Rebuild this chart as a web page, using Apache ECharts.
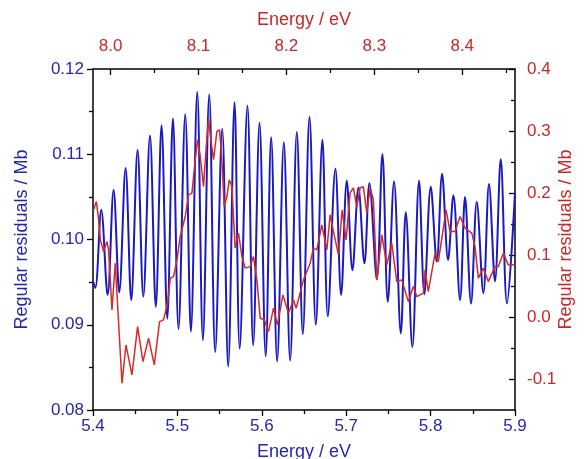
<!DOCTYPE html>
<html>
<head>
<meta charset="utf-8">
<script src="https://cdn.jsdelivr.net/npm/echarts@6/dist/echarts.min.js"></script>
<style>
html,body{margin:0;padding:0;background:#fff;}
#chart{width:585px;height:459px;}
</style>
</head>
<body>
<div id="chart"></div>
<script>
// Blue series: bottom axis energy (eV) and left axis residuals (Mb)
const blueEnergy = [5.4000,5.4027,5.4098,5.4173,5.4244,5.4311,5.4386,5.4453,5.4528,5.4596,5.4675,5.4744,5.4812,5.4880,5.4947,5.5013,5.5093,5.5160,5.5235,5.5302,5.5377,5.5448,5.5531,5.5602,5.5677,5.5738,5.5830,5.5898,5.5973,5.6046,5.6111,5.6182,5.6261,5.6336,5.6415,5.6486,5.6565,5.6640,5.6718,5.6782,5.6872,5.6940,5.7007,5.7074,5.7145,5.7216,5.7275,5.7363,5.7429,5.7493,5.7567,5.7647,5.7706,5.7784,5.7863,5.7926,5.8002,5.8073,5.8136,5.8207,5.8270,5.8349,5.8408,5.8479,5.8547,5.8625,5.8692,5.8763,5.8831,5.8905,5.9000];
const blueResidual = [0.0951,0.0943,0.1035,0.0935,0.1058,0.0938,0.1084,0.0929,0.1105,0.0933,0.1122,0.0921,0.1134,0.0907,0.1142,0.0895,0.1147,0.0892,0.1173,0.0882,0.1170,0.0868,0.1130,0.0851,0.1161,0.0872,0.1157,0.0876,0.1137,0.0863,0.1120,0.0857,0.1114,0.0858,0.1126,0.0889,0.1144,0.0900,0.1117,0.0910,0.1083,0.0935,0.1069,0.0964,0.1061,0.0972,0.1066,0.0953,0.1100,0.0927,0.1068,0.0890,0.1032,0.0874,0.1069,0.0936,0.1062,0.0974,0.1077,0.0976,0.1052,0.0929,0.1050,0.0925,0.1044,0.0937,0.1065,0.0951,0.1094,0.0925,0.1055];

// Red series: top axis energy (eV) and right axis residuals (Mb)
const redEnergy = [7.9807,7.9838,7.9864,7.9883,7.9920,7.9959,7.9977,8.0016,8.0053,8.0130,8.0175,8.0243,8.0307,8.0368,8.0432,8.0497,8.0557,8.0602,8.0648,8.0679,8.0716,8.0755,8.0792,8.0849,8.0887,8.0925,8.0963,8.0989,8.1020,8.1057,8.1088,8.1114,8.1141,8.1171,8.1209,8.1239,8.1266,8.1292,8.1323,8.1349,8.1380,8.1417,8.1455,8.1494,8.1531,8.1588,8.1625,8.1664,8.1702,8.1750,8.1796,8.1853,8.1898,8.1960,8.2023,8.2080,8.2111,8.2194,8.2270,8.2307,8.2346,8.2403,8.2460,8.2497,8.2543,8.2592,8.2634,8.2679,8.2724,8.2762,8.2801,8.2838,8.2876,8.2914,8.2952,8.2989,8.3028,8.3085,8.3142,8.3198,8.3255,8.3312,8.3387,8.3444,8.3483,8.3558,8.3577,8.3614,8.3691,8.3728,8.3816,8.3861,8.3918,8.3975,8.4032,8.4108,8.4145,8.4183,8.4240,8.4296,8.4373,8.4410,8.4467,8.4524,8.4600];
const redResidual = [0.1729,0.1863,0.1567,0.1244,0.1056,0.1217,0.1083,0.0114,0.0868,-0.1069,-0.0451,-0.0935,-0.0155,-0.0720,-0.0342,-0.0773,-0.0074,-0.0047,0.0223,0.0626,0.0652,0.0922,0.1298,0.1621,0.1971,0.1998,0.2536,0.2859,0.2589,0.2105,0.2751,0.3182,0.2859,0.2536,0.2993,0.3020,0.2536,0.1782,0.1943,0.2213,0.2105,0.1115,0.1353,0.0975,0.0788,0.0813,0.0975,0.0599,-0.0020,-0.0047,-0.0236,0.0142,-0.0128,0.0357,0.0061,0.0276,0.0142,0.0599,0.0868,0.1110,0.1083,0.1487,0.1083,0.1648,0.1325,0.1002,0.1729,0.1244,0.2003,0.2084,0.1777,0.2084,0.2100,0.1680,0.2084,0.1890,0.0599,0.1325,0.0841,0.1191,0.0571,0.0599,0.0248,0.0491,0.0329,0.0384,0.0760,0.0410,0.1030,0.0894,0.1729,0.1378,0.1378,0.1621,0.1433,0.1353,0.1136,0.0626,0.0788,0.0571,0.0813,0.0813,0.1030,0.0841,0.0841];

// Tick labels
const topMajorTicks = [8.0, 8.1, 8.2, 8.3, 8.4];
const topMinorTicks = [8.05, 8.15, 8.25, 8.35, 8.45];
const rightMajorTicks = [-0.1, 0.0, 0.1, 0.2, 0.3, 0.4];
const rightMinorTicks = [-0.05, 0.05, 0.15, 0.25, 0.35];

const BLUE_LINE = '#1a1ac0';
const BLUE_TEXT = '#2626b0';
const RED_LINE = '#d42a2a';
const RED_TEXT = '#c82828';
const FONT = 'Liberation Sans, Arial, sans-serif';

const chart = echarts.init(document.getElementById('chart'), null, {renderer: 'canvas'});

const axisLineStyle = {show: true, onZero: false, lineStyle: {color: '#000', width: 1.5}};
const tickStyle = {color: '#000', width: 1.3};

const option = {
  animation: false,
  backgroundColor: '#fff',
  grid: {left: 93, right: 70, top: 69, bottom: 49, containLabel: false, outerBoundsMode: 'none'},
  xAxis: [
    {
      type: 'value', position: 'bottom', min: 5.4, max: 5.9, interval: 0.1,
      axisLine: axisLineStyle,
      axisTick: {show: true, inside: false, length: 6, lineStyle: tickStyle},
      minorTick: {show: true, splitNumber: 2, length: 4, lineStyle: tickStyle},
      splitLine: {show: false},
      axisLabel: {color: BLUE_TEXT, fontSize: 17, fontFamily: FONT, margin: 8,
        formatter: v => v.toFixed(1)},
      name: 'Energy / eV', nameLocation: 'middle', nameGap: 33, nameMoveOverlap: false,
      nameTextStyle: {color: BLUE_TEXT, fontSize: 18, fontFamily: FONT}
    },
    {
      type: 'value', position: 'top', min: 7.98, max: 8.46,
      axisLine: axisLineStyle,
      axisTick: {show: true, inside: true, length: 6, customValues: topMajorTicks, lineStyle: tickStyle},
      splitLine: {show: false},
      axisLabel: {color: RED_TEXT, fontSize: 17, fontFamily: FONT, margin: 14,
        customValues: topMajorTicks, formatter: v => v.toFixed(1)},
      name: 'Energy / eV', nameLocation: 'middle', nameGap: 40, nameMoveOverlap: false,
      nameTextStyle: {color: RED_TEXT, fontSize: 18, fontFamily: FONT}
    },
    {
      type: 'value', position: 'top', min: 7.98, max: 8.46,
      axisLine: {show: false, onZero: false},
      axisTick: {show: true, inside: true, length: 4, customValues: topMinorTicks, lineStyle: tickStyle},
      splitLine: {show: false},
      axisLabel: {show: false, customValues: topMinorTicks}
    }
  ],
  yAxis: [
    {
      type: 'value', position: 'left', min: 0.08, max: 0.12, interval: 0.01,
      axisLine: axisLineStyle,
      axisTick: {show: true, inside: false, length: 6, lineStyle: tickStyle},
      minorTick: {show: true, splitNumber: 2, length: 4, lineStyle: tickStyle},
      splitLine: {show: false},
      axisLabel: {color: BLUE_TEXT, fontSize: 17, fontFamily: FONT, margin: 9,
        formatter: v => v.toFixed(2)},
      name: 'Regular residuals / Mb', nameLocation: 'middle', nameGap: 62, nameRotate: 90, nameMoveOverlap: false,
      nameTextStyle: {color: BLUE_TEXT, fontSize: 18, fontFamily: FONT}
    },
    {
      type: 'value', position: 'right', min: -0.15, max: 0.4,
      axisLine: axisLineStyle,
      axisTick: {show: true, inside: true, length: 6, customValues: rightMajorTicks, lineStyle: tickStyle},
      splitLine: {show: false},
      axisLabel: {color: RED_TEXT, fontSize: 17, fontFamily: FONT, margin: 12,
        customValues: rightMajorTicks, formatter: v => v.toFixed(1)},
      name: 'Regular residuals / Mb', nameLocation: 'middle', nameGap: 42, nameRotate: 90, nameMoveOverlap: false,
      nameTextStyle: {color: RED_TEXT, fontSize: 18, fontFamily: FONT}
    },
    {
      type: 'value', position: 'right', min: -0.15, max: 0.4,
      axisLine: {show: false, onZero: false},
      axisTick: {show: true, inside: true, length: 4, customValues: rightMinorTicks, lineStyle: tickStyle},
      splitLine: {show: false},
      axisLabel: {show: false, customValues: rightMinorTicks}
    }
  ],
  series: [
    {
      type: 'line', xAxisIndex: 0, yAxisIndex: 0, showSymbol: false, smooth: 0.35,
      lineStyle: {color: BLUE_LINE, width: 2}, z: 2,
      data: blueEnergy.map((e, i) => [e, blueResidual[i]])
    },
    {
      type: 'line', xAxisIndex: 1, yAxisIndex: 1, showSymbol: false, smooth: false,
      lineStyle: {color: RED_LINE, width: 1.5}, z: 3,
      data: redEnergy.map((e, i) => [e, redResidual[i]])
    }
  ]
};
chart.setOption(option);
</script>
</body>
</html>
